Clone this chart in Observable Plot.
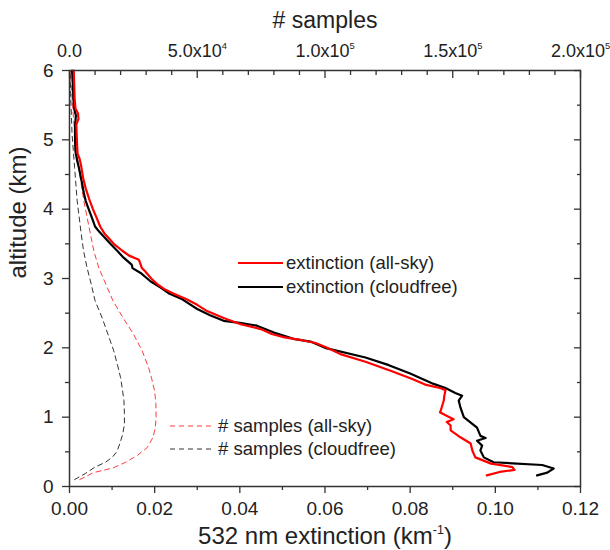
<!DOCTYPE html>
<html><head><meta charset="utf-8">
<script src="https://cdn.jsdelivr.net/npm/d3@7"></script>
<script src="https://cdn.jsdelivr.net/npm/@observablehq/plot@0.6"></script>
<style>
body{margin:0;background:#fff;font-family:"Liberation Sans",Arial,sans-serif;}
</style></head><body><div id="chart"></div>
<script>
// ---- data ----
const redAlt = [6.0,5.8,5.6,5.45,5.38,5.3,5.22,5.05,4.9,4.8,4.72,4.6,4.45,4.3,4.15,4.0,3.87,3.75,3.65,3.5,3.4,3.33,3.27,3.22,3.15,3.1,3.0,2.92,2.85,2.78,2.7,2.62,2.53,2.43,2.34,2.27,2.2,2.15,2.11,2.07,2.0,1.91,1.8,1.67,1.55,1.47,1.42,1.39,1.3,1.24,1.1,1.07,1.03,0.97,0.93,0.88,0.81,0.71,0.62,0.52,0.42,0.33,0.28,0.24,0.21,0.16];
const redExt = [0.0010,0.0011,0.0012,0.0014,0.0020,0.0021,0.0016,0.0017,0.0018,0.0019,0.0024,0.0028,0.0032,0.0038,0.0046,0.0055,0.0064,0.0072,0.0082,0.0104,0.0124,0.0140,0.0163,0.0166,0.0170,0.0178,0.0192,0.0206,0.0222,0.0245,0.0275,0.0300,0.0323,0.0362,0.0402,0.0449,0.0475,0.0505,0.0545,0.0578,0.0605,0.0636,0.0695,0.0754,0.0805,0.0835,0.0870,0.0883,0.0880,0.0879,0.0872,0.0870,0.0882,0.0902,0.0886,0.0895,0.0895,0.0918,0.0942,0.0946,0.0953,0.0990,0.1040,0.1045,0.1010,0.0980];

const blackAlt = [6.0,5.8,5.6,5.45,5.35,5.2,5.0,4.83,4.7,4.6,4.45,4.36,4.25,4.12,4.0,3.87,3.75,3.68,3.5,3.4,3.3,3.2,3.15,3.08,2.96,2.87,2.78,2.7,2.56,2.47,2.39,2.36,2.32,2.22,2.13,2.09,2.0,1.86,1.75,1.63,1.48,1.42,1.35,1.31,1.24,1.14,1.0,0.85,0.73,0.70,0.66,0.59,0.52,0.42,0.35,0.31,0.26,0.20,0.16];
const blackExt = [0.0006,0.0008,0.0009,0.0011,0.0015,0.0013,0.0013,0.0014,0.0018,0.0022,0.0027,0.0030,0.0033,0.0038,0.0045,0.0053,0.0060,0.0069,0.0096,0.0112,0.0127,0.0146,0.0148,0.0167,0.0190,0.0214,0.0235,0.0265,0.0300,0.0330,0.0362,0.0400,0.0440,0.0480,0.0526,0.0566,0.0600,0.0695,0.0750,0.0800,0.0855,0.0883,0.0906,0.0922,0.0914,0.0918,0.0926,0.0957,0.0965,0.0977,0.0957,0.0969,0.0965,0.0973,0.0996,0.1110,0.1137,0.1122,0.1098];

const samplesRedAlt = [0.1,0.2,0.27,0.35,0.45,0.56,0.71,0.85,1.0,1.2,1.38,1.55,1.71,1.96,2.2,2.43,2.68,2.92,3.15,3.4,3.64,4.12,4.6,5.0,5.5,6.0];
const samplesRed = [4000,9400,17200,22000,26600,30400,32700,33600,33900,33800,33300,32200,31000,28400,25000,21000,17000,14200,11500,9500,8200,5600,3600,2200,1200,300];

const samplesBlackAlt = [0.1,0.19,0.28,0.35,0.42,0.5,0.62,0.75,0.9,1.05,1.24,1.4,1.57,1.75,1.96,2.2,2.43,2.68,2.92,3.15,3.4,3.64,4.12,4.6,5.08,5.5,6.0];
const samplesBlack = [2000,6300,10000,14100,16700,18500,19700,20800,21500,21500,21300,20700,20000,18800,17300,15000,12800,10000,8500,6900,5500,4600,3000,2000,1000,600,200];

const xTicks = [0,0.02,0.04,0.06,0.08,0.10,0.12];
const xMinor = [0.01,0.03,0.05,0.07,0.09,0.11];
const yTicks = [0,1,2,3,4,5,6];
const yMinor = [0.5,1.5,2.5,3.5,4.5,5.5];
const topTicks = [0,50000,100000,150000,200000];
const topLabels = ["0.0","5.0x10^{4}","1.0x10^{5}","1.5x10^{5}","2.0x10^{5}"];
const topMinor = [10000,20000,30000,40000,60000,70000,80000,90000,110000,120000,130000,140000,160000,170000,180000,190000];

const seriesNames = ["extinction (all-sky)","extinction (cloudfree)","# samples (all-sky)","# samples (cloudfree)"];

// ---- helpers ----
const EXT_MAX = 0.12, SAMPLE_MAX = 200000;
const toExt = s => s * EXT_MAX / SAMPLE_MAX;
const zipRows = (alts, vals) => alts.map((a, i) => ({alt: a, v: vals[i]}));
const redRows = zipRows(redAlt, redExt);
const blackRows = zipRows(blackAlt, blackExt);
const sRedRows = zipRows(samplesRedAlt, samplesRed);
const sBlackRows = zipRows(samplesBlackAlt, samplesBlack);
const topLabelFor = d => {
  const i = topTicks.findIndex(t => Math.abs(toExt(t) - d) < 1e-9);
  return i >= 0 ? topLabels[i] : "";
};

const FONT = "'Liberation Sans', Arial, sans-serif";
const AX = "#333";

const plot = Plot.plot({
  width: 610, height: 550,
  marginLeft: 69, marginRight: 30, marginTop: 70, marginBottom: 64,
  style: {fontFamily: FONT, fontSize: "19px", color: "#222", background: "#fff", overflow: "visible"},
  x: {domain: [0, EXT_MAX]},
  y: {domain: [0, 6]},
  marks: [
    Plot.line(sRedRows, {x: d => toExt(d.v), y: "alt", stroke: "#ff3b3b", strokeWidth: 1, strokeDasharray: "5,4"}),
    Plot.line(sBlackRows, {x: d => toExt(d.v), y: "alt", stroke: "#333", strokeWidth: 1, strokeDasharray: "5,4"}),
    Plot.line(blackRows, {x: "v", y: "alt", stroke: "#000", strokeWidth: 2.2}),
    Plot.line(redRows, {x: "v", y: "alt", stroke: "#ff0000", strokeWidth: 2.2}),
    Plot.frame({stroke: AX, strokeWidth: 1.5}),
    // bottom axis
    Plot.axisX({anchor: "bottom", ticks: xTicks, tickSize: 7, tickPadding: 8, tickFormat: d3.format(".2f"), label: null, stroke: AX, strokeWidth: 1.3, fill: "#222"}),
    Plot.axisX({anchor: "bottom", ticks: xMinor, tickSize: 4, tickFormat: () => "", label: null, stroke: AX, strokeWidth: 1.3}),
    // left axis
    Plot.axisY({anchor: "left", ticks: yTicks, tickSize: 7, tickPadding: 9, tickFormat: d3.format("d"), label: null, stroke: AX, strokeWidth: 1.3, fill: "#222"}),
    Plot.axisY({anchor: "left", ticks: yMinor, tickSize: 4, tickFormat: () => "", label: null, stroke: AX, strokeWidth: 1.3}),
    // right axis (inward ticks)
    Plot.axisY({anchor: "right", ticks: yTicks, tickSize: -7, tickFormat: () => "", label: null, stroke: AX, strokeWidth: 1.3}),
    Plot.axisY({anchor: "right", ticks: yMinor, tickSize: -4, tickFormat: () => "", label: null, stroke: AX, strokeWidth: 1.3}),
    // top axis (# samples), inward ticks
    Plot.axisX({anchor: "top", ticks: topTicks.map(toExt), tickSize: -7, tickFormat: () => "", label: null, stroke: AX, strokeWidth: 1.3}),
    Plot.axisX({anchor: "top", ticks: topMinor.map(toExt), tickSize: -4, tickFormat: () => "", label: null, stroke: AX, strokeWidth: 1.3}),
    Plot.axisX({anchor: "top", ticks: topTicks.map(toExt), tickSize: 0, tickPadding: 14, tickFormat: topLabelFor, label: null, fill: "#222", fontSize: 18}),
    // titles
    Plot.text(["# samples"], {text: d => d, frameAnchor: "top", lineAnchor: "middle", dy: -50, fontSize: 23, fill: "#222"}),
    Plot.text(["532 nm extinction (km^{-1})"], {text: d => d, frameAnchor: "bottom", lineAnchor: "middle", dy: 50, fontSize: 24, fill: "#222"}),
    Plot.text(["altitude (km)"], {text: d => d, frameAnchor: "left", lineAnchor: "middle", rotate: -90, dx: -51, fontSize: 24, fill: "#222"})
  ]
});
document.getElementById("chart").appendChild(plot);

// legend (drawn into the same SVG)
const svg = d3.select(plot);
const legendSpec = [
  {name: seriesNames[0], stroke: "#ff0000", w: 2.2, dash: null, x: 238, y: 263},
  {name: seriesNames[1], stroke: "#000", w: 2.2, dash: null, x: 238, y: 287},
  {name: seriesNames[2], stroke: "#ff3b3b", w: 1, dash: "5,4", x: 170, y: 426},
  {name: seriesNames[3], stroke: "#333", w: 1, dash: "5,4", x: 170, y: 449}
];
const lg = svg.append("g").attr("font-family", FONT).attr("font-size", 18.5).attr("fill", "#222").attr("text-anchor", "start");
legendSpec.forEach(s => {
  lg.append("line").attr("x1", s.x).attr("x2", s.x + 45).attr("y1", s.y).attr("y2", s.y)
    .attr("stroke", s.stroke).attr("stroke-width", s.w).attr("stroke-dasharray", s.dash);
  lg.append("text").attr("x", s.x + 48).attr("y", s.y).attr("dy", "0.35em").attr("text-anchor", "start").text(s.name);
});

// superscripts
function supText(el) {
  const s = el.textContent;
  if (!s.includes("^{")) return;
  const fs = parseFloat(getComputedStyle(el).fontSize) || 19;
  const up = fs * 0.42;
  const parts = s.split(/\^\{([^}]*)\}/);
  const sel = d3.select(el);
  sel.text(null);
  let raised = false;
  parts.forEach((p, i) => {
    if (i % 2 === 1) {
      sel.append("tspan").attr("dy", -up).attr("font-size", fs * 0.52).text(p);
      raised = true;
    } else if (p) {
      const t = sel.append("tspan").text(p);
      if (raised) { t.attr("dy", up); raised = false; }
    }
  });
}
svg.selectAll("text").each(function() { supText(this); });
</script>
</body></html>
